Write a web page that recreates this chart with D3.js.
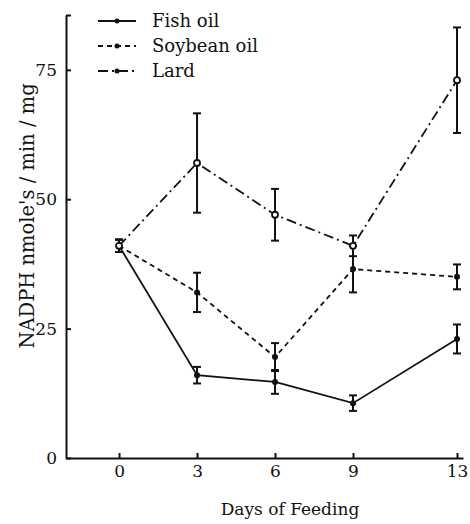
<!DOCTYPE html>
<html>
<head>
<meta charset="utf-8">
<script src="https://cdn.jsdelivr.net/npm/d3@7"></script>
<style>
  body { margin: 0; background: #fff; }
  svg { display: block; }
  text { font-family: "DejaVu Serif", "Liberation Serif", serif; fill: #111; }
</style>
</head>
<body>
<div id="chart"></div>
<script>
// days of feeding
const days = [0, 3, 6, 9, 13];
const yTicks = [0, 25, 50, 75];

// NADPH nmole's / min / mg
const fishOil = [41, 16, 14.7, 10.6, 23];
const fishErr = [1.2, 1.6, 2.3, 1.5, 2.8];
const soybeanOil = [41, 32, 19.5, 36.5, 35];
const soybeanErr = [1.2, 3.8, 2.7, 4.5, 2.4];
const lard = [41, 57, 47, 41, 73];
const lardErr = [1.2, 9.6, 5, 2, 10.2];

const series = [
  { name: "Fish oil", values: fishOil, err: fishErr, dash: null, open: false },
  { name: "Soybean oil", values: soybeanOil, err: soybeanErr, dash: "5,4", open: false },
  { name: "Lard", values: lard, err: lardErr, dash: "10,4,2,4", open: true }
];

const width = 470, height = 524;

const svg = d3.select("#chart")
  .append("svg")
  .attr("width", width)
  .attr("height", height);

const x = d3.scaleLinear().domain([-2.04, 13.23]).range([66, 463]);
const y = d3.scaleLinear().domain([0, 85.6]).range([458, 15]);

// axes, ticks pointing inward
const xAxis = svg.append("g")
  .attr("transform", `translate(0,${y(0)})`)
  .call(d3.axisBottom(x).tickValues(days).tickSize(-5).tickPadding(7).tickSizeOuter(0));
const yAxis = svg.append("g")
  .attr("transform", `translate(${x(-2.04)},0)`)
  .call(d3.axisLeft(y).tickValues(yTicks.concat([85.6])).tickSize(-5).tickPadding(9).tickSizeOuter(0)
    .tickFormat((d) => yTicks.includes(d) ? d : ""));

[xAxis, yAxis].forEach((g) => {
  g.select(".domain").attr("stroke", "#111").attr("stroke-width", 2);
  g.selectAll(".tick line").attr("stroke", "#111").attr("stroke-width", 2);
  g.selectAll(".tick text").style("font-size", "17px").attr("fill", "#111");
});

// axis titles
svg.append("text")
  .attr("x", 290)
  .attr("y", 515)
  .attr("text-anchor", "middle")
  .style("font-size", "17px")
  .text("Days of Feeding");

svg.append("text")
  .attr("transform", "translate(34,216) rotate(-90)")
  .attr("text-anchor", "middle")
  .style("font-size", "19.5px")
  .text("NADPH nmole's / min / mg");

const line = d3.line()
  .x((d, i) => x(days[i]))
  .y((d) => y(d));

series.forEach((s) => {
  const g = svg.append("g");

  g.append("path")
    .datum(s.values)
    .attr("d", line)
    .attr("fill", "none")
    .attr("stroke", "#111")
    .attr("stroke-width", 1.8)
    .attr("stroke-dasharray", s.dash);

  // error bars
  const bars = g.selectAll(".err")
    .data(s.values.map((v, i) => ({ day: days[i], v: v, e: s.err[i] })))
    .enter()
    .append("g");
  bars.append("line")
    .attr("x1", (d) => x(d.day)).attr("x2", (d) => x(d.day))
    .attr("y1", (d) => y(d.v - d.e)).attr("y2", (d) => y(d.v + d.e))
    .attr("stroke", "#111").attr("stroke-width", 2);
  [-1, 1].forEach((sign) => {
    bars.append("line")
      .attr("x1", (d) => x(d.day) - 4).attr("x2", (d) => x(d.day) + 4)
      .attr("y1", (d) => y(d.v + sign * d.e)).attr("y2", (d) => y(d.v + sign * d.e))
      .attr("stroke", "#111").attr("stroke-width", 2);
  });

  g.selectAll("circle")
    .data(s.values)
    .enter()
    .append("circle")
    .attr("cx", (d, i) => x(days[i]))
    .attr("cy", (d) => y(d))
    .attr("r", 3)
    .attr("fill", s.open ? "#fff" : "#111")
    .attr("stroke", "#111")
    .attr("stroke-width", s.open ? 1.8 : 0);
});

// legend
const legend = svg.append("g")
  .selectAll("g")
  .data(series)
  .enter()
  .append("g")
  .attr("transform", (d, i) => `translate(0,${21 + i * 25})`);
legend.append("line")
  .attr("x1", 98).attr("x2", 136)
  .attr("y1", 0).attr("y2", 0)
  .attr("stroke", "#111").attr("stroke-width", 1.8)
  .attr("stroke-dasharray", (d) => d.dash);
legend.append("circle")
  .attr("cx", 117).attr("cy", 0).attr("r", 2.5)
  .attr("fill", "#111");
legend.append("text")
  .attr("x", 152)
  .attr("y", 0)
  .attr("dy", "0.35em")
  .style("font-size", "18px")
  .text((d) => d.name);
</script>
</body>
</html>
